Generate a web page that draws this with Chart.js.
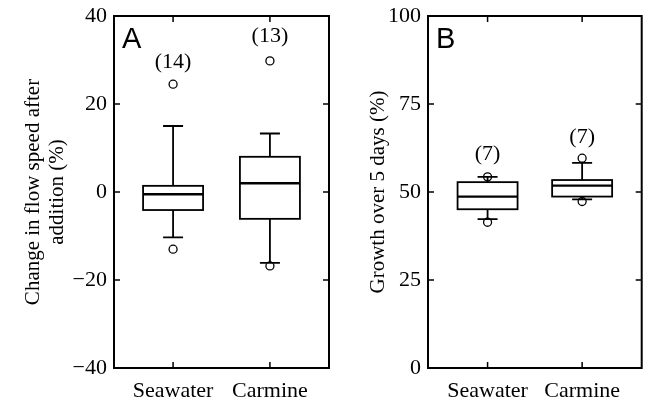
<!DOCTYPE html>
<html>
<head>
<meta charset="utf-8">
<script src="https://cdn.jsdelivr.net/npm/chart.js@4.4.1/dist/chart.umd.min.js"></script>
<style>
  html, body { margin: 0; padding: 0; background: #fff; }
  #wrap { position: relative; width: 647px; height: 406px; }
  #wa { position: absolute; left: 0; top: 0; width: 335px; height: 406px; }
  #wb { position: absolute; left: 335px; top: 0; width: 312px; height: 406px; }
</style>
</head>
<body>
<div id="wrap">
  <div id="wa"><canvas id="ca" width="335" height="406"></canvas></div>
  <div id="wb"><canvas id="cb" width="312" height="406"></canvas></div>
</div>
<script>
// ---------- data ----------
const categories = ['Seawater', 'Carmine'];

// Panel A: change in flow speed after addition (%)
const flowWhiskerLow = [-10.3, -16.1];
const flowQ1 = [-4.1, -6.1];
const flowMedian = [-0.5, 2.0];
const flowQ3 = [1.4, 8.0];
const flowWhiskerHigh = [15.0, 13.3];
const flowOutliers = [[24.5, -13.0], [29.8, -16.8]];
const flowCounts = ['(14)', '(13)'];
const flowCountAt = [29.5, 35.3];
const flowTicks = [-40, -20, 0, 20, 40];
const flowTickLabels = ['\u221240', '\u221220', '0', '20', '40'];

// Panel B: growth over 5 days (%)
const growthWhiskerLow = [42.3, 47.9];
const growthQ1 = [45.1, 48.7];
const growthMedian = [48.7, 51.8];
const growthQ3 = [52.8, 53.4];
const growthWhiskerHigh = [54.3, 58.3];
const growthOutliers = [[54.3, 41.4], [59.6, 47.3]];
const growthCounts = ['(7)', '(7)'];
const growthCountAt = [60.8, 65.7];
const growthTicks = [0, 25, 50, 75, 100];
const growthTickLabels = ['0', '25', '50', '75', '100'];

// ---------- drawing ----------
const SERIF = '"Liberation Serif", "DejaVu Serif", serif';
const SANS = '"Liberation Sans", Arial, sans-serif';

const boxPlugin = {
  id: 'boxplot',
  afterDatasetsDraw(chart, args, o) {
    const ctx = chart.ctx;
    const xs = chart.scales.x, ys = chart.scales.y;
    const ca = chart.chartArea;
    ctx.save();
    ctx.strokeStyle = '#000';
    ctx.lineCap = 'butt';
    ctx.lineWidth = 1.8;
    for (let i = 0; i < categories.length; i++) {
      const cx = xs.getPixelForValue(i);
      const hw = o.boxHalf, cw = o.capHalf;
      const yq1 = ys.getPixelForValue(o.q1[i]);
      const yq3 = ys.getPixelForValue(o.q3[i]);
      const ymed = ys.getPixelForValue(o.med[i]);
      const ylo = ys.getPixelForValue(o.lo[i]);
      const yhi = ys.getPixelForValue(o.hi[i]);
      ctx.strokeRect(cx - hw, yq3, 2 * hw, yq1 - yq3);
      ctx.beginPath();
      ctx.moveTo(cx, yq3); ctx.lineTo(cx, yhi);
      ctx.moveTo(cx - cw, yhi); ctx.lineTo(cx + cw, yhi);
      ctx.moveTo(cx, yq1); ctx.lineTo(cx, ylo);
      ctx.moveTo(cx - cw, ylo); ctx.lineTo(cx + cw, ylo);
      ctx.stroke();
      ctx.lineWidth = 2.4;
      ctx.beginPath();
      ctx.moveTo(cx - hw, ymed); ctx.lineTo(cx + hw, ymed);
      ctx.stroke();
      ctx.lineWidth = 1.8;
      ctx.fillStyle = '#000';
      ctx.font = '22px ' + SERIF;
      ctx.textAlign = 'center';
      ctx.textBaseline = 'middle';
      ctx.fillText(o.counts[i], cx, ys.getPixelForValue(o.countAt[i]));
    }
    // frame
    ctx.lineWidth = 2;
    ctx.strokeRect(ca.left, ca.top, ca.right - ca.left, ca.bottom - ca.top);
    // inward ticks
    ctx.lineWidth = 1.5;
    ctx.beginPath();
    ys.ticks.forEach(t => {
      const y = ys.getPixelForValue(t.value);
      ctx.moveTo(ca.left, y); ctx.lineTo(ca.left + 6, y);
      ctx.moveTo(ca.right, y); ctx.lineTo(ca.right - 6, y);
    });
    xs.ticks.forEach(t => {
      const x = xs.getPixelForValue(t.value);
      ctx.moveTo(x, ca.top); ctx.lineTo(x, ca.top + 6);
      ctx.moveTo(x, ca.bottom); ctx.lineTo(x, ca.bottom - 6);
    });
    ctx.stroke();
    // panel letter
    ctx.fillStyle = '#000';
    ctx.font = '29px ' + SANS;
    ctx.textAlign = 'left';
    ctx.textBaseline = 'alphabetic';
    ctx.fillText(o.letter, ca.left + 8, ca.top + 32);
    ctx.restore();
  }
};

function outlierData(outs) {
  const pts = [];
  outs.forEach((arr, i) => arr.forEach(v => pts.push({ x: i, y: v })));
  return pts;
}

function makeChart(id, cfg) {
  return new Chart(document.getElementById(id), {
    type: 'scatter',
    data: {
      datasets: [{
        data: outlierData(cfg.outliers),
        pointRadius: 4,
        pointBorderWidth: 1.3,
        borderColor: '#000',
        backgroundColor: 'rgba(0,0,0,0)',
        pointStyle: 'circle'
      }]
    },
    plugins: [boxPlugin],
    options: {
      responsive: false,
      animation: false,
      devicePixelRatio: 1,
      layout: { padding: { top: 16, right: cfg.rightPad, left: 0, bottom: 0 } },
      plugins: {
        legend: { display: false },
        tooltip: { enabled: false },
        boxplot: cfg.box
      },
      scales: {
        x: {
          type: 'linear',
          min: cfg.xmin, max: cfg.xmax,
          grid: { display: false, drawTicks: false },
          border: { display: false },
          afterBuildTicks: s => { s.ticks = categories.map((c, i) => ({ value: i })); },
          afterFit: s => { s.height = 38; s.paddingLeft = 0; s.paddingRight = 0; },
          ticks: {
            callback: v => categories[v],
            color: '#000',
            font: { family: SERIF, size: 22 },
            padding: 10,
            maxRotation: 0,
            autoSkip: false
          }
        },
        y: {
          type: 'linear',
          min: cfg.yTicks[0], max: cfg.yTicks[cfg.yTicks.length - 1],
          grid: { display: false, drawTicks: false },
          border: { display: false },
          afterBuildTicks: s => { s.ticks = cfg.yTicks.map(v => ({ value: v })); },
          afterFit: s => { s.width = cfg.yWidth; s.paddingTop = 0; s.paddingBottom = 0; },
          ticks: {
            callback: v => cfg.yTickLabels[cfg.yTicks.indexOf(v)],
            color: '#000',
            font: { family: SERIF, size: 22 },
            padding: 7,
            autoSkip: false
          },
          title: {
            display: true,
            text: cfg.title,
            color: '#000',
            font: { family: SERIF, size: 21, lineHeight: 1.15 },
            padding: { top: cfg.titlePad, bottom: 0 }
          }
        }
      }
    }
  });
}

makeChart('ca', {
  outliers: flowOutliers,
  rightPad: 6, yWidth: 114, titlePad: 21,
  xmin: -0.61, xmax: 1.61,
  yTicks: flowTicks, yTickLabels: flowTickLabels,
  title: ['Change in flow speed after', 'addition (%)'],
  box: {
    letter: 'A', boxHalf: 30, capHalf: 10,
    lo: flowWhiskerLow, q1: flowQ1, med: flowMedian, q3: flowQ3, hi: flowWhiskerHigh,
    counts: flowCounts, countAt: flowCountAt
  }
});

makeChart('cb', {
  outliers: growthOutliers,
  rightPad: 4, yWidth: 93, titlePad: 31,
  xmin: -0.63, xmax: 1.63,
  yTicks: growthTicks, yTickLabels: growthTickLabels,
  title: 'Growth over 5 days (%)',
  box: {
    letter: 'B', boxHalf: 30, capHalf: 10,
    lo: growthWhiskerLow, q1: growthQ1, med: growthMedian, q3: growthQ3, hi: growthWhiskerHigh,
    counts: growthCounts, countAt: growthCountAt
  }
});
</script>
</body>
</html>
